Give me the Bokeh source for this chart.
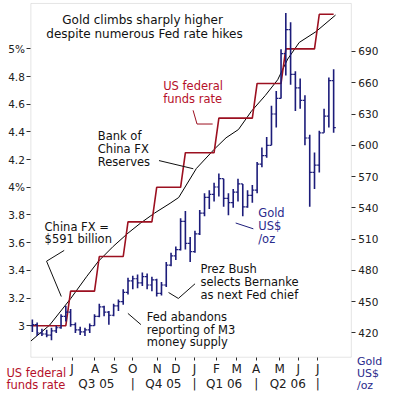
from bokeh.plotting import figure
from bokeh.models import Range1d, LinearAxis, FixedTicker, Label, Arrow, BoxAnnotation
from bokeh.embed import file_html
from bokeh.resources import INLINE

# ---- data -------------------------------------------------------------
# weekly gold bars, index 0 = week ending 6 May 2005 ... 63 = week ending 21 Jul 2006
gold_week = list(range(64))
gold_open = [427, 428, 420, 419, 418, 422, 425, 436, 440, 428,
             423, 421, 423, 427, 436, 445, 440, 437, 446, 450,
             459, 470, 472, 468, 474, 466, 471, 458, 466, 485,
             494, 500, 527, 506, 498, 515, 535, 550, 553, 560,
             568, 549, 545, 555, 563, 541, 552, 557, 582, 590,
             600, 630, 645, 688, 711, 668, 655, 643, 607, 574,
             581, 612, 628, 662]
gold_high = [433, 430, 424, 423, 425, 427, 438, 446, 443, 430,
             426, 425, 429, 438, 448, 446, 441, 448, 452, 462,
             473, 475, 476, 478, 477, 474, 472, 469, 488, 497,
             503, 530, 537, 512, 518, 538, 554, 557, 564, 573,
             568, 554, 558, 568, 563, 557, 562, 584, 598, 608,
             638, 652, 692, 727, 718, 671, 664, 648, 610, 593,
             614, 635, 665, 673]
gold_low = [421, 417, 417, 416, 413, 420, 424, 431, 426, 420,
            418, 417, 420, 427, 435, 436, 428, 436, 441, 447,
            457, 462, 463, 465, 462, 460, 455, 456, 464, 484,
            490, 499, 500, 488, 497, 514, 532, 539, 546, 551,
            541, 533, 540, 546, 532, 540, 545, 554, 579, 588,
            600, 617, 645, 667, 658, 633, 635, 600, 541, 558,
            574, 612, 617, 612]
gold_close = [428, 420, 419, 418, 422, 425, 436, 440, 428, 423,
              421, 423, 427, 436, 445, 440, 437, 446, 450, 459,
              470, 472, 468, 474, 466, 471, 458, 466, 485, 494,
              500, 527, 506, 498, 515, 535, 550, 553, 560, 568,
              549, 545, 555, 563, 541, 552, 557, 582, 590, 600,
              630, 645, 688, 711, 668, 655, 643, 607, 574, 581,
              612, 628, 662, 617]

# US federal funds rate, weekly
fed_week = list(range(64))
fed_rate = [3.0, 3.0, 3.0, 3.0, 3.0, 3.0, 3.0, 3.0,
            3.25, 3.25, 3.25, 3.25, 3.25, 3.25,
            3.5, 3.5, 3.5, 3.5, 3.5, 3.5,
            3.75, 3.75, 3.75, 3.75, 3.75, 3.75,
            4.0, 4.0, 4.0, 4.0, 4.0, 4.0,
            4.25, 4.25, 4.25, 4.25, 4.25, 4.25, 4.25,
            4.5, 4.5, 4.5, 4.5, 4.5, 4.5, 4.5, 4.5,
            4.75, 4.75, 4.75, 4.75, 4.75, 4.75,
            5.0, 5.0, 5.0, 5.0, 5.0, 5.0, 5.0,
            5.25, 5.25, 5.25, 5.25]

# Bank of China FX reserves (US$ bn, unlabelled scale)
fx_week = [-0.3, 3.6, 8.0, 11.4, 13.8, 16.9, 20.0, 22.6, 25.5, 28.8, 30.6,
           34.3, 38.0, 40.5, 43.1, 45.8, 48.7, 51.3, 53.4, 55.8, 59.3, 63.4]
fx_reserves = [548, 567, 599, 626, 644, 662, 678, 690, 702, 714, 721,
               756, 779, 793, 803, 825, 844, 863, 888, 908, 921, 941]

month_tick_week = [4.3, 8.3, 13.1, 17.1, 21.0, 26.1, 30.0, 33.9, 38.5, 42.7, 46.8, 51.7, 55.6, 59.7]
month_tick_label = ["", "J", "A", "S", "O", "N", "D", "J", "F", "M", "A", "M", "J", "J"]
quarter_tick_week = [13.4, 21.0, 27.4, 33.9, 40.1, 46.8, 53.4, 59.7]
quarter_tick_label = ["Q3 05", "|", "Q4 05", "|", "Q1 06", "|", "Q2 06", "|"]
rate_ticks = [5.0, 4.8, 4.6, 4.4, 4.2, 4.0, 3.8, 3.6, 3.4, 3.2, 3.0]
rate_tick_labels = ["5%", "4.8", "4.6", "4.4", "4.2", "4%", "3.8", "3.6", "3.4", "3.2", "3"]
gold_ticks = [690, 660, 630, 600, 570, 540, 510, 480, 450, 420]
gold_tick_labels = ["690", "660", "630", "600", "570", "540", "510", "480", "450", "420"]

# ---- styling ------------------------------------------------------------
FONT = "DejaVu Sans"
RED_LINE = "#9c1020"
RED_TEXT = "#b5102a"
NAVY = "#1c1c7a"
NAVY_TEXT = "#2a2a8c"

# chart box (in data units of week / rate)
BOX_L, BOX_R, BOX_T, BOX_B = -0.307, 66.70, 5.328, 2.7724

p = figure(width=385, height=394, output_backend="svg", toolbar_location=None,
           x_range=Range1d(-6.660, 73.844), y_range=Range1d(2.5031, 5.3494),
           min_border=0)
p.extra_y_ranges = {"gold": Range1d(361.0, 738.87), "fx": Range1d(483.4, 958.6)}
p.xgrid.visible = False
p.ygrid.visible = False
p.outline_line_color = None
p.background_fill_color = "white"
p.border_fill_color = "white"

p.add_layout(BoxAnnotation(left=BOX_L, right=BOX_R, top=BOX_T, bottom=BOX_B,
                           fill_alpha=0, fill_color=None,
                           line_color="#a8a8a8", line_width=1, level="underlay"))

def style_axis(ax, size):
    ax.axis_line_color = None
    ax.major_tick_in = 0
    ax.major_tick_out = 4
    ax.minor_tick_line_color = None
    ax.major_tick_line_color = "#303030"
    ax.major_label_text_font = FONT
    ax.major_label_text_font_size = size
    ax.major_label_text_color = "#202020"

# left axis (rate)
lax = p.yaxis[0]
lax.fixed_location = BOX_L
lax.ticker = FixedTicker(ticks=rate_ticks)
lax.major_label_overrides = dict(zip(rate_ticks, rate_tick_labels))
style_axis(lax, "10.5px")
lax.major_label_standoff = 2

# right axis (gold)
rax = LinearAxis(y_range_name="gold", fixed_location=BOX_R)
rax.ticker = FixedTicker(ticks=gold_ticks)
rax.major_label_overrides = dict(zip(gold_ticks, gold_tick_labels))
style_axis(rax, "10.5px")
rax.major_label_standoff = 3
p.add_layout(rax, "right")

# bottom month axis
bax = p.xaxis[0]
bax.fixed_location = BOX_B
bax.ticker = FixedTicker(ticks=month_tick_week)
bax.major_label_overrides = dict(zip(month_tick_week, month_tick_label))
style_axis(bax, "12px")
bax.major_tick_out = 3
bax.major_label_standoff = 2

# bottom quarter axis
qax = LinearAxis(fixed_location=BOX_B)
qax.ticker = FixedTicker(ticks=quarter_tick_week)
qax.major_label_overrides = dict(zip(quarter_tick_week, quarter_tick_label))
style_axis(qax, "12px")
qax.major_tick_out = 0
qax.major_tick_line_color = None
qax.major_label_standoff = 20
p.add_layout(qax, "below")

# ---- series ---------------------------------------------------------------
p.line(fx_week, fx_reserves, y_range_name="fx", line_color="black", line_width=1)
p.line(fed_week, fed_rate, line_color=RED_LINE, line_width=1.6)

p.segment(x0=gold_week, y0=gold_low, x1=gold_week, y1=gold_high, y_range_name="gold",
          line_color=NAVY, line_width=1.6)
p.segment(x0=[w - 0.45 for w in gold_week], y0=gold_open, x1=gold_week, y1=gold_open,
          y_range_name="gold", line_color=NAVY, line_width=1.2)
p.segment(x0=gold_week, y0=gold_close, x1=[w + 0.45 for w in gold_week], y1=gold_close,
          y_range_name="gold", line_color=NAVY, line_width=1.2)

# ---- annotations ------------------------------------------------------------
def lab(x, y, text, color="#111111", size="11.5px", align="left"):
    p.add_layout(Label(x=x, y=y, text=text, text_font=FONT, text_font_size=size,
                       text_color=color, text_align=align, text_baseline="middle"))

def seg(x0, y0, x1, y1, color="#111111"):
    p.add_layout(Arrow(end=None, x_start=x0, y_start=y0, x_end=x1, y_end=y1,
                       line_color=color, line_width=1))

lab(23.05, 5.208, "Gold climbs sharply higher", size="12px", align="center")
lab(23.46, 5.109, "despite numerous Fed rate hikes", size="12px", align="center")

lab(27.36, 4.733, "US federal", color=RED_TEXT)
lab(27.36, 4.641, "funds rate", color=RED_TEXT)
seg(33.61, 4.556, 34.43, 4.457, RED_LINE)
seg(34.43, 4.457, 37.70, 4.457, RED_LINE)

lab(13.69, 4.372, "Bank of")
lab(13.69, 4.277, "China FX")
lab(13.69, 4.185, "Reserves")
seg(26.48, 4.193, 33.65, 4.134)

lab(2.56, 3.716, "China FX =")
lab(2.56, 3.627, "$591 billion")
seg(6.66, 3.544, 2.97, 3.466)
seg(2.97, 3.466, 6.05, 3.211)

lab(47.23, 3.815, "Gold", color=NAVY_TEXT)
lab(47.23, 3.721, "US$", color=NAVY_TEXT)
lab(47.23, 3.627, "/oz", color=NAVY_TEXT)
seg(42.52, 3.742, 46.21, 3.700, NAVY)

lab(35.14, 3.410, "Prez Bush")
lab(35.14, 3.315, "selects Bernanke")
lab(35.14, 3.225, "as next Fed chief")
seg(28.48, 3.240, 30.53, 3.197)
seg(30.53, 3.197, 34.02, 3.303)

lab(23.93, 3.061, "Fed abandons")
lab(23.93, 2.966, "reporting of M3")
lab(23.93, 2.879, "money supply")
seg(19.98, 3.089, 22.70, 3.008)

lab(-5.43, 2.659, "US federal", color=RED_TEXT)
lab(-5.43, 2.569, "funds rate", color=RED_TEXT)

lab(67.87, 2.742, "Gold", color=NAVY_TEXT, size="11px")
lab(67.87, 2.656, "US$", color=NAVY_TEXT, size="11px")
lab(67.87, 2.570, "/oz", color=NAVY_TEXT, size="11px")

open("out.html", "w").write(file_html(p, INLINE))
